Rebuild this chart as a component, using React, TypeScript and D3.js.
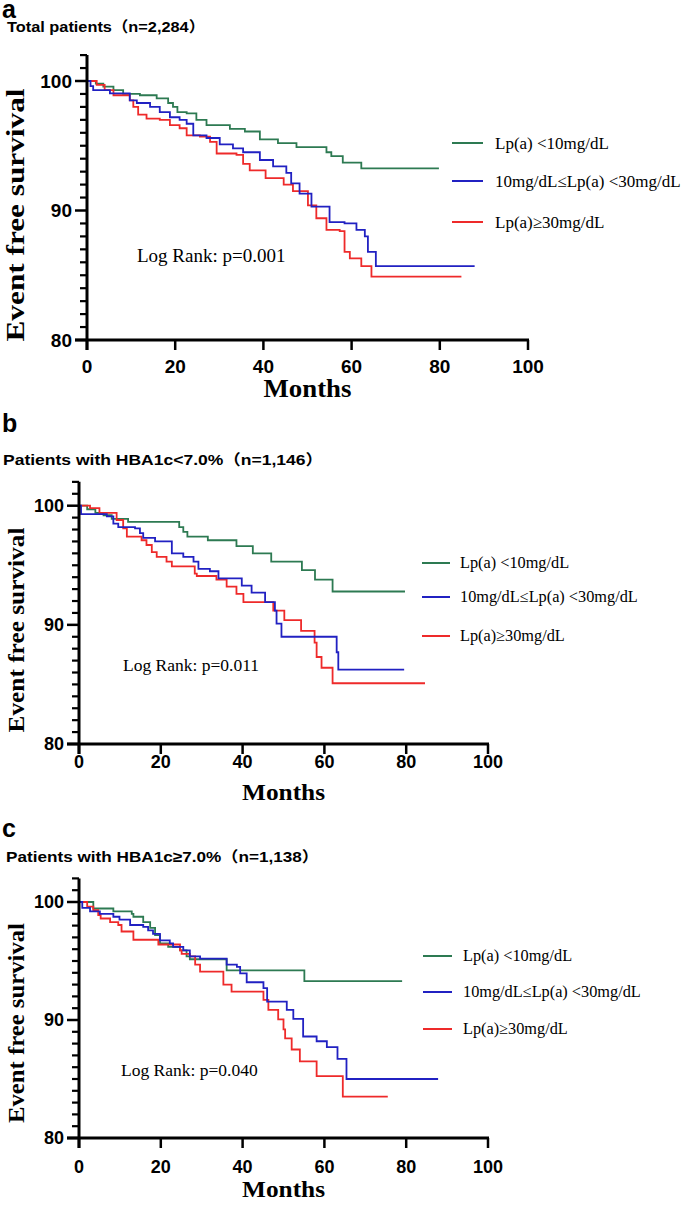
import React from 'react';
import * as d3 from 'd3';

const GREEN = '#2d7a52';
const BLUE = '#2121c2';
const RED = '#ee2a2a';

const xTickValues = [0, 20, 40, 60, 80, 100];
const yMajorTicks = [80, 90, 100];
const yMinorTicks = d3.range(81, 103).filter((v) => v % 10 !== 0);
const legendLabels = ['Lp(a) <10mg/dL', '10mg/dL≤Lp(a) <30mg/dL', 'Lp(a)≥30mg/dL'];
const panelLetters = ['a', 'b', 'c'];
const panelTitles = [
  'Total patients（n=2,284）',
  'Patients with HBA1c<7.0%（n=1,146）',
  'Patients with HBA1c≥7.0%（n=1,138）',
];
const logRankLabels = ['Log Rank: p=0.001', 'Log Rank: p=0.011', 'Log Rank: p=0.040'];

// Panel a
const aGreenT = [0, 2, 3.7, 6, 8.2, 12, 15.8, 18.4, 19.5, 20.5, 22.6, 24.8, 27.1, 32.4, 35.8, 39.2, 43.3, 47.5, 54.3, 55.4, 58, 62.2, 79.8];
const aGreenS = [100, 99.8, 99.56, 99.3, 99.0, 98.9, 98.66, 98.3, 98.0, 97.6, 97.5, 97.0, 96.6, 96.3, 96.1, 95.5, 95.2, 94.9, 94.5, 94.2, 93.7, 93.26, 93.26];
const aBlueT = [0, 0.8, 1.4, 5.2, 9.7, 11.3, 14.3, 16.5, 18.8, 21, 22.6, 24.1, 27.1, 30.1, 33.1, 35.4, 39.2, 42.2, 45.2, 46.3, 48.2, 50.9, 55, 58.4, 61.1, 63, 63.7, 65.5, 87.9];
const aBlueS = [100, 99.6, 99.3, 99.05, 98.5, 98.3, 98.0, 97.6, 97.2, 97.0, 96.7, 95.8, 95.6, 95.1, 94.8, 94.5, 93.9, 93.4, 92.9, 92.1, 91.3, 90.3, 89.1, 89.0, 88.5, 88.0, 86.8, 85.7, 85.7];
const aRedT = [0, 2.2, 4, 6, 9.7, 10.5, 11.6, 13.5, 16.5, 18.8, 21, 22.6, 25.6, 27.9, 29.4, 33.9, 35.4, 36.9, 40.5, 44.6, 46.7, 50.1, 52, 54.3, 57.3, 58.4, 59.6, 62.2, 64.5, 84.9];
const aRedS = [100, 99.7, 99.3, 98.9, 98.5, 98.0, 97.4, 97.1, 97.0, 96.6, 96.35, 95.8, 95.7, 95.3, 94.4, 94.3, 93.6, 93.1, 92.5, 92.0, 91.5, 90.4, 89.4, 88.5, 88.4, 86.8, 86.3, 85.7, 84.9, 84.9];

// Panel b
const bGreenT = [0, 2, 4, 6, 8, 12, 24.5, 25.5, 26.5, 31.5, 38.5, 42.5, 47, 54.5, 57.7, 62, 79.7];
const bGreenS = [100, 99.7, 99.4, 99.2, 98.9, 98.65, 98.2, 97.8, 97.4, 97.1, 96.6, 96.0, 95.3, 94.6, 93.8, 92.8, 92.8];
const bBlueT = [0, 0.5, 6.8, 8.4, 9.6, 13.7, 14.9, 15.7, 18.6, 22.7, 25.5, 28, 29.2, 32, 34.1, 39.8, 42.2, 45.5, 47.9, 48.3, 49.5, 63.0, 63.4, 79.5];
const bBlueS = [100, 99.3, 99.1, 98.5, 98.2, 98.1, 97.7, 97.3, 97.0, 96.0, 95.7, 95.3, 94.7, 94.5, 93.9, 93.3, 92.7, 91.9, 91.2, 90.1, 89.0, 87.7, 86.25, 86.25];
const bRedT = [0, 2.7, 5, 9.2, 10.8, 11.7, 15.3, 16.5, 17.8, 19, 21.4, 22.7, 28.3, 28.8, 33.6, 36.1, 38.5, 40.2, 47.5, 50.2, 54.3, 57.6, 58.1, 59.3, 62, 84.6];
const bRedS = [100, 99.8, 99.4, 98.8, 98.1, 97.4, 97.1, 96.7, 96.1, 95.7, 95.3, 94.9, 94.3, 94.1, 93.8, 93.2, 92.6, 91.9, 91.2, 90.4, 89.5, 88.5, 87.3, 86.4, 85.1, 85.1];

// Panel c
const cGreenT = [0, 3.5, 8.4, 12.9, 13.3, 15.7, 17.4, 18.6, 19.8, 21.8, 24.7, 26.3, 27.1, 36.1, 55.1, 79];
const cGreenS = [100, 99.45, 99.2, 99.0, 98.75, 98.3, 97.8, 97.2, 96.5, 96.2, 95.9, 95.4, 95.15, 94.2, 93.3, 93.3];
const cBlueT = [0, 0.8, 2.7, 5.1, 8.4, 9.9, 12.5, 15.7, 16.9, 18.1, 19.8, 22.2, 23, 25.5, 27.1, 29.6, 36.1, 38.6, 39.4, 41, 45.1, 46, 50.8, 52.4, 54.8, 58.1, 60.6, 63.2, 65.4, 87.8];
const cBlueS = [100, 99.5, 99.2, 99.0, 98.75, 98.5, 98.05, 97.9, 97.6, 97.3, 96.75, 96.5, 96.2, 95.9, 95.4, 95.2, 94.7, 94.5, 93.95, 93.2, 92.7, 91.55, 90.85, 90.1, 88.6, 88.2, 87.7, 86.7, 85.0, 85.0];
const cRedT = [0, 2, 3.5, 4.7, 5.3, 7.6, 9.6, 10.4, 13.3, 19.4, 24.7, 25.1, 27.1, 28.4, 29.6, 35.3, 37.3, 45.1, 46.3, 48.7, 50, 50.4, 52, 54, 58.1, 64.5, 75.5];
const cRedS = [100, 99.6, 99.3, 98.9, 98.6, 98.3, 98.05, 97.5, 96.8, 96.4, 95.9, 95.6, 95.4, 94.7, 94.1, 93.0, 92.4, 91.7, 90.85, 90.05, 89.2, 88.45, 87.5, 86.5, 85.25, 83.5, 83.5];

type Series = { t: number[]; s: number[]; color: string };

type Layout = {
  letterY: number;
  titleX: number;
  titleY: number;
  titleSize: number;
  titleLen: number;
  x0: number;
  x1: number;
  y100: number;
  y80: number;
  tickSize: number;
  tickBase: number;
  monthsBase: number;
  monthsSize: number;
  monthsLen: number;
  yTitleCenter: number;
  yTitleLen: number;
  yTitleSize: number;
  legX1: number;
  legX2: number;
  legTextX: number;
  legY: number[];
  legSize: number;
  lrX: number;
  lrY: number;
  lrSize: number;
};

const layouts: Layout[] = [
  {
    letterY: 18, titleX: 7, titleY: 32, titleSize: 15, titleLen: 198,
    x0: 87, x1: 528, y100: 81, y80: 340,
    tickSize: 19, tickBase: 373, monthsBase: 397, monthsSize: 25, monthsLen: 88,
    yTitleCenter: 215, yTitleLen: 253, yTitleSize: 25,
    legX1: 452, legX2: 483, legTextX: 495, legY: [143, 181, 222], legSize: 17,
    lrX: 137, lrY: 262, lrSize: 19,
  },
  {
    letterY: 432, titleX: 3, titleY: 465, titleSize: 15, titleLen: 320,
    x0: 79, x1: 488, y100: 505.7, y80: 744,
    tickSize: 18, tickBase: 768, monthsBase: 800, monthsSize: 23, monthsLen: 83,
    yTitleCenter: 630, yTitleLen: 205, yTitleSize: 23,
    legX1: 422, legX2: 450, legTextX: 460, legY: [563, 597, 636], legSize: 16.3,
    lrX: 123, lrY: 671, lrSize: 17.5,
  },
  {
    letterY: 837, titleX: 6, titleY: 862, titleSize: 15, titleLen: 313,
    x0: 79, x1: 488, y100: 902, y80: 1138,
    tickSize: 18, tickBase: 1173, monthsBase: 1197, monthsSize: 23, monthsLen: 83,
    yTitleCenter: 1023, yTitleLen: 200, yTitleSize: 23,
    legX1: 423, legX2: 452, legTextX: 463, legY: [956, 992, 1029], legSize: 16.3,
    lrX: 121, lrY: 1076, lrSize: 17.5,
  },
];

const panelSeries: Series[][] = [
  [
    { t: aGreenT, s: aGreenS, color: GREEN },
    { t: aRedT, s: aRedS, color: RED },
    { t: aBlueT, s: aBlueS, color: BLUE },
  ],
  [
    { t: bGreenT, s: bGreenS, color: GREEN },
    { t: bRedT, s: bRedS, color: RED },
    { t: bBlueT, s: bBlueS, color: BLUE },
  ],
  [
    { t: cGreenT, s: cGreenS, color: GREEN },
    { t: cRedT, s: cRedS, color: RED },
    { t: cBlueT, s: cBlueS, color: BLUE },
  ],
];
const legendColors = [GREEN, BLUE, RED];

const SANS = "'Liberation Sans', Arial, 'Noto Sans CJK SC', sans-serif";
const SERIF = "'Liberation Serif', 'Times New Roman', 'Noto Sans CJK SC', serif";

function Panel({ idx }: { idx: number }) {
  const L = layouts[idx];
  const x = d3.scaleLinear().domain([0, 100]).range([L.x0, L.x1]);
  const y = d3.scaleLinear().domain([80, 100]).range([L.y80, L.y100]);
  const line = d3
    .line<[number, number]>()
    .x((d) => x(d[0]))
    .y((d) => y(d[1]))
    .curve(d3.curveStepAfter);
  const yTop = y(102);
  return (
    <g>
      <text x={2} y={L.letterY} fontFamily={SANS} fontWeight="bold" fontSize={25}>
        {panelLetters[idx]}
      </text>
      <text
        x={L.titleX}
        y={L.titleY}
        fontFamily={SANS}
        fontWeight="bold"
        fontSize={L.titleSize}
        textLength={L.titleLen}
        lengthAdjust="spacingAndGlyphs"
      >
        {panelTitles[idx]}
      </text>

      {panelSeries[idx].map((sr, i) => (
        <path
          key={i}
          d={line(sr.t.map((t, k) => [t, sr.s[k]] as [number, number])) || ''}
          fill="none"
          stroke={sr.color}
          strokeWidth={1.8}
        />
      ))}

      <line x1={x(0)} x2={x(0)} y1={yTop} y2={L.y80 + 10} stroke="#000" strokeWidth={3} />
      <line x1={x(0) - 12} x2={x(100) + 1} y1={L.y80} y2={L.y80} stroke="#000" strokeWidth={3} />
      {yMinorTicks.map((v) => (
        <line key={v} x1={x(0) - 7} x2={x(0)} y1={y(v)} y2={y(v)} stroke="#000" strokeWidth={2.2} />
      ))}
      {yMajorTicks.map((v) => (
        <g key={v}>
          <line x1={x(0) - 12} x2={x(0)} y1={y(v)} y2={y(v)} stroke="#000" strokeWidth={2.5} />
          <text
            x={x(0) - 15}
            y={y(v)}
            dy="0.35em"
            textAnchor="end"
            fontFamily={SANS}
            fontWeight="bold"
            fontSize={L.tickSize}
          >
            {v}
          </text>
        </g>
      ))}
      {xTickValues.map((v) => (
        <g key={v}>
          <line x1={x(v)} x2={x(v)} y1={L.y80} y2={L.y80 + 10} stroke="#000" strokeWidth={2.5} />
          <text
            x={x(v)}
            y={L.tickBase}
            textAnchor="middle"
            fontFamily={SANS}
            fontWeight="bold"
            fontSize={L.tickSize}
          >
            {v}
          </text>
        </g>
      ))}
      <text
        x={(x(0) + x(100)) / 2}
        y={L.monthsBase}
        textAnchor="middle"
        fontFamily={SERIF}
        fontWeight="bold"
        fontSize={L.monthsSize}
        textLength={L.monthsLen}
        lengthAdjust="spacingAndGlyphs"
      >
        Months
      </text>
      <text
        transform={`translate(24,${L.yTitleCenter}) rotate(-90)`}
        textAnchor="middle"
        fontFamily={SERIF}
        fontWeight="bold"
        fontSize={L.yTitleSize}
        textLength={L.yTitleLen}
        lengthAdjust="spacingAndGlyphs"
      >
        Event free survival
      </text>

      {legendLabels.map((lab, i) => (
        <g key={lab}>
          <line x1={L.legX1} x2={L.legX2} y1={L.legY[i]} y2={L.legY[i]} stroke={legendColors[i]} strokeWidth={2} />
          <text x={L.legTextX} y={L.legY[i]} dy="0.33em" fontFamily={SERIF} fontSize={L.legSize}>
            {lab}
          </text>
        </g>
      ))}

      <text x={L.lrX} y={L.lrY} fontFamily={SERIF} fontSize={L.lrSize}>
        {logRankLabels[idx]}
      </text>
    </g>
  );
}

export default function App() {
  return (
    <svg
      width={685}
      height={1206}
      style={{ position: 'absolute', left: 0, top: 0, background: '#fff' }}
    >
      <rect width={685} height={1206} fill="#fff" />
      {[0, 1, 2].map((i) => (
        <Panel key={i} idx={i} />
      ))}
    </svg>
  );
}
